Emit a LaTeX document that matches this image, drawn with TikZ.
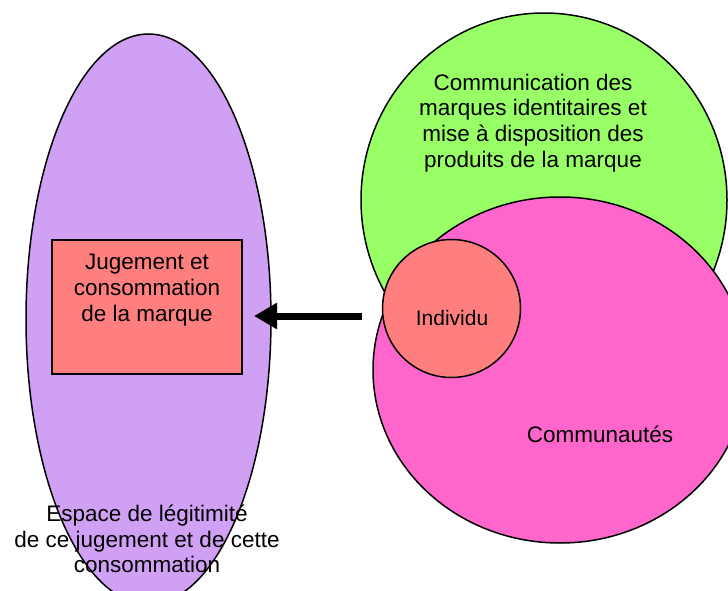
\documentclass[tikz,border=0pt]{standalone}
\usepackage{fontspec}
\setmainfont{Liberation Sans}
\usetikzlibrary{shapes.geometric,arrows.meta}
\definecolor{lav}{RGB}{208,160,245}
\definecolor{lgreen}{RGB}{153,255,102}
\definecolor{lpink}{RGB}{255,102,204}
\definecolor{salmon}{RGB}{255,127,127}
\tikzset{
  shapeline/.style={draw=black,line width=1.5pt},
  blob/.style={shapeline,ellipse,inner sep=0pt},
  lbl/.style={align=center,font=\fontsize{22.5}{25.8}\selectfont,inner sep=0pt},
  bigarrow/.style={line width=7pt,-{Triangle[length=23pt,width=25pt]}}
}
\begin{document}
\begin{tikzpicture}[x=1pt,y=-1pt]
\useasboundingbox (0,0) rectangle (728,591);
% left ellipse and box
\node[blob,fill=lav,minimum width=245pt,minimum height=570pt] (espace) at (148.5,319) {};
\node[shapeline,fill=salmon,minimum width=190pt,minimum height=134pt,inner sep=0pt] (jug) at (147,307) {};
\node[lbl] (jugtxt) at (147,290) {Jugement et\\consommation\\de la marque};
\node[lbl] (esptxt) at (147,539) {Espace de légitimité\\de ce jugement et de cette\\consommation};
% right circles
\node[blob,fill=lgreen,minimum width=366pt,minimum height=374pt] (comm) at (544,200) {};
\node[blob,fill=lpink,minimum width=374pt,minimum height=346pt] (commu) at (560,370) {};
\node[blob,circle,fill=salmon,minimum size=138pt] (indiv) at (451.5,308.5) {};
\node[lbl] (commtxt) at (533,123) {Communication des\\marques identitaires et\\mise à disposition des\\produits de la marque};
\node[lbl] (commutxt) at (600,434) {Communautés};
\node[lbl,font=\fontsize{21}{24}\selectfont] (indivtxt) at (452,318) {Individu};
% arrow
\coordinate (astart) at (362,316);
\coordinate (aend) at (254,316);
\draw[bigarrow] (astart) -- (aend);
\end{tikzpicture}
\end{document}
